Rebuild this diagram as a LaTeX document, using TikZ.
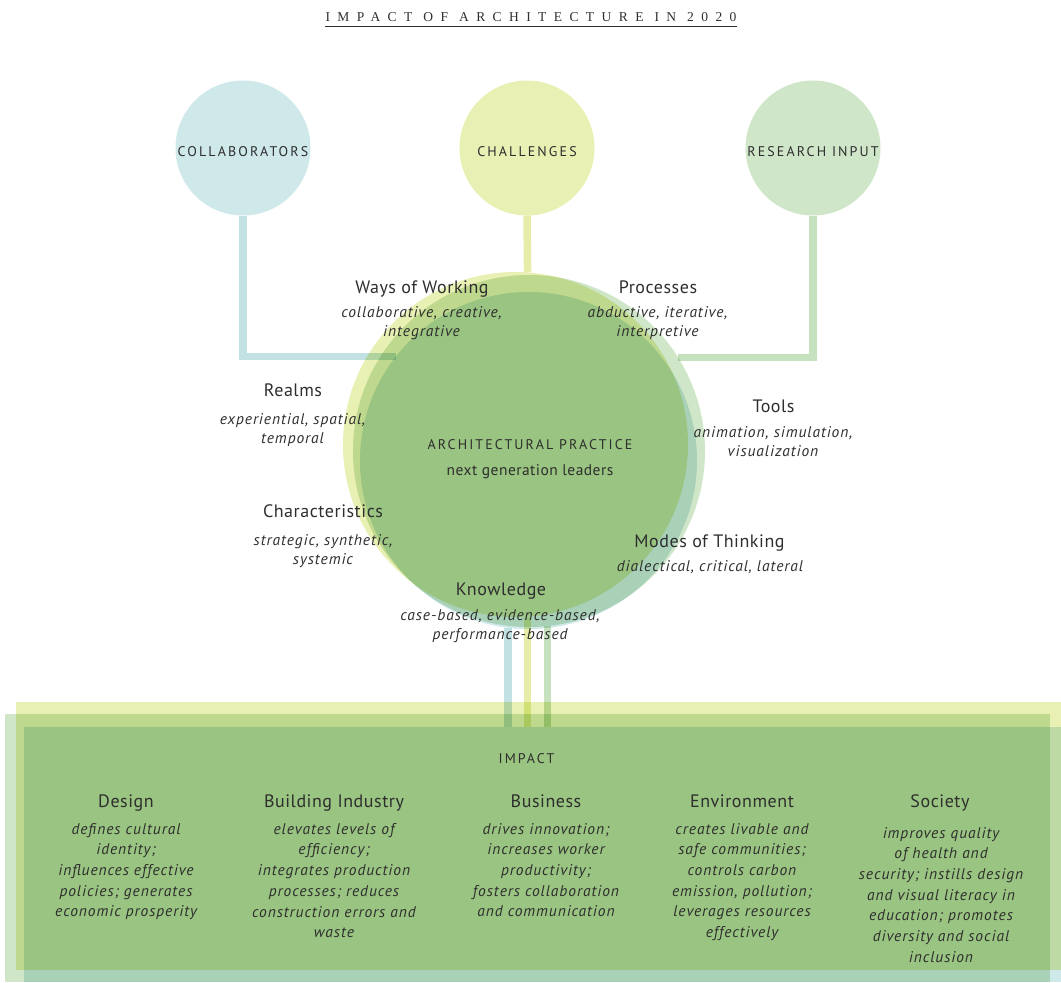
\documentclass[tikz,border=0pt]{standalone}
\usepackage{fontspec}
\setmainfont{PT Sans}
\newfontfamily\titlefont[LetterSpace=55]{Liberation Serif}
\definecolor{collabc}{HTML}{CFE8EA}
\definecolor{challc}{HTML}{E9F0B3}
\definecolor{researchc}{HTML}{D0E6C9}
\definecolor{collabline}{HTML}{C2E1E3}
\definecolor{challline}{HTML}{E5EDA9}
\definecolor{researchline}{HTML}{C6E1BD}
\definecolor{inkc}{HTML}{2E2E2E}
\newcommand{\wordgap}{\hspace{11pt}}

\begin{document}
\begin{tikzpicture}[x=1pt, y=-1pt,
    hub/.style={circle, minimum size=135pt, inner sep=0pt, text=inkc, text height=16pt, text depth=0pt,
      font=\fontsize{14}{16}\selectfont\addfontfeature{LetterSpace=15}},
    ring/.style={circle, inner sep=0pt},
    box/.style={rectangle, inner sep=0pt, anchor=north west},
    link/.style={line width=7.5pt},
    caps/.style={text=inkc, inner sep=0pt, anchor=base,
      font=\fontsize{14}{16}\selectfont\addfontfeature{LetterSpace=15}},
    topic/.style={text=inkc, inner sep=0pt, anchor=base,
      font=\fontsize{18}{20}\selectfont\addfontfeature{LetterSpace=3}},
    note/.style={text=inkc, inner sep=0pt, anchor=north, align=center,
      font=\fontsize{15.5}{19.5}\selectfont\itshape\addfontfeature{LetterSpace=6}},
    impactnote/.style={note,
      font=\fontsize{15.5}{20.7}\selectfont\itshape\addfontfeature{LetterSpace=6}}]

\useasboundingbox (0,0) rectangle (1061,983);

% title
\node[text=inkc, inner sep=0pt, anchor=base, font=\titlefont\fontsize{13.5}{15}\selectfont] (title) at (531,21.5) {IMPACT\wordgap OF\wordgap ARCHITECTURE\wordgap IN\wordgap 2020};
\draw[inkc, line width=1pt] ([yshift=-4.5pt]title.base west) -- ([yshift=-4.5pt]title.base east);

% input circles
\node[hub, fill=collabc] (collab) at (243,148) {COLLABORATORS};
\node[hub, fill=challc] (challenges) at (527,148) {CHALLENGES};
\node[hub, fill=researchc] (research) at (813,148) {RESEARCH INPUT};

% overlapping rings, boxes and links (multiplied)
\begin{scope}[blend mode=multiply]
  \node[ring, fill=challc, minimum size=345pt] (challring) at (515.5,444.5) {};
  \node[ring, fill=researchc, minimum size=352pt] (researchring) at (529,451) {};
  \node[ring, fill=collabc, minimum size=337pt] (collabring) at (528.5,460.5) {};

  \node[box, fill=challc, minimum width=1050pt, minimum height=268pt] (challbox) at (16,702) {};
  \node[box, fill=researchc, minimum width=1045pt, minimum height=268pt] (researchbox) at (5,714) {};
  \node[box, fill=collabc, minimum width=1042pt, minimum height=255pt] (collabbox) at (24,727) {};

  \draw[link, collabline] (collab.south) |- (collabring.142);
  \draw[link, challline] (challenges.south) -- (challring.86);
  \draw[link, researchline] (research.south) |- (researchring.32);

  \draw[link, collabline] (collabring.-97.5) -- (collabring.-97.5 |- collabbox.north);
  \draw[link, challline] (challring.-86) -- (challring.-86 |- collabbox.north);
  \draw[link, researchline] (researchring.-84) -- (researchring.-84 |- collabbox.north);
\end{scope}

% practice
\node[caps] (practice) at (530,449) {ARCHITECTURAL PRACTICE};
\node[text=inkc, inner sep=0pt, anchor=base, font=\fontsize{15.5}{18}\selectfont\addfontfeature{LetterSpace=3}] (leaders) at (530,475) {next generation leaders};

\node[topic] (ways) at (422,293) {Ways of Working};
\node[note] (waysnote) at (421.5,306) {collaborative, creative,\\integrative};
\node[topic] (processes) at (658,293) {Processes};
\node[note] (processesnote) at (657.5,306) {abductive, iterative,\\interpretive};
\node[topic] (realms) at (293,396) {Realms};
\node[note] (realmsnote) at (292.5,413) {experiential, spatial,\\temporal};
\node[topic] (tools) at (773.5,412) {Tools};
\node[note] (toolsnote) at (773,426) {animation, simulation,\\visualization};
\node[topic] (character) at (323,517) {Characteristics};
\node[note] (characternote) at (323,534) {strategic, synthetic,\\systemic};
\node[topic] (modes) at (709.5,547) {Modes of Thinking};
\node[note] (modesnote) at (710,560) {dialectical, critical, lateral};
\node[topic] (knowledge) at (501,595) {Knowledge};
\node[note] (knowledgenote) at (500,609) {case-based, evidence-based,\\performance-based};

% impact
\node[caps] (impact) at (526.5,763) {IMPACT};

\node[topic] (design) at (126,807) {Design};
\node[impactnote] (designnote) at (126,823) {defines cultural\\identity;\\influences effective\\policies; generates\\economic prosperity};
\node[topic] (industry) at (334,807) {Building Industry};
\node[impactnote] (industrynote) at (334,823) {elevates levels of\\efficiency;\\integrates production\\processes; reduces\\construction errors and\\waste};
\node[topic] (business) at (546,807) {Business};
\node[impactnote] (businessnote) at (546,823) {drives innovation;\\increases worker\\productivity;\\fosters collaboration\\and communication};
\node[topic] (environment) at (742,807) {Environment};
\node[impactnote] (environmentnote) at (742,823) {creates livable and\\safe communities;\\controls carbon\\emission, pollution;\\leverages resources\\effectively};
\node[topic] (society) at (940,807) {Society};
\node[impactnote] (societynote) at (941,827) {improves quality\\of health and\\security; instills design\\and visual literacy in\\education; promotes\\diversity and social\\inclusion};
\end{tikzpicture}
\end{document}
